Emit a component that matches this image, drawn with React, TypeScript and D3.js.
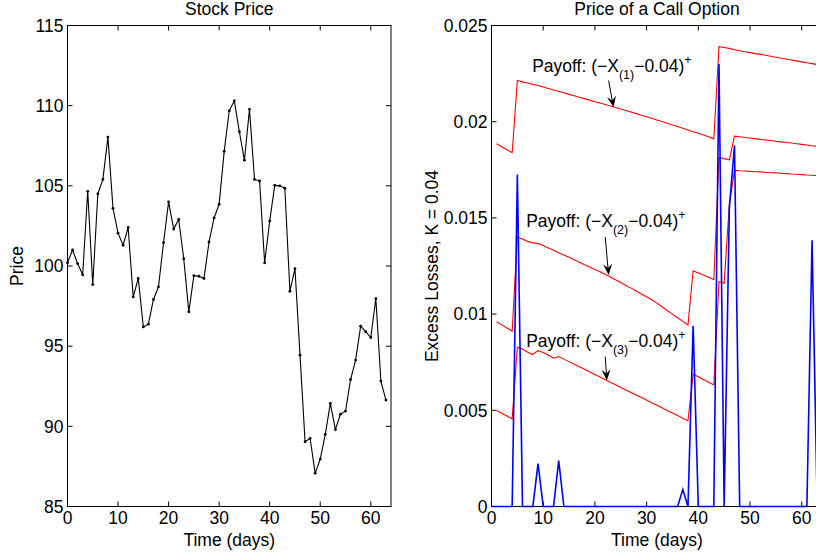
import React from "react";
import * as d3 from "d3";

// ---------- DATA ----------
const days: number[] = d3.range(0, 64);
const stockPrice: number[] = [
  100.2, 101.0, 100.15, 99.45, 104.66, 98.84, 104.5, 105.4, 108.04, 103.6,
  102.05, 101.3, 102.4, 98.07, 99.22, 96.2, 96.37, 97.91, 98.7, 101.45,
  104.0, 102.3, 102.9, 100.45, 97.14, 99.4, 99.36, 99.22, 101.5, 103.0,
  103.85, 107.15, 109.68, 110.3, 108.38, 106.6, 109.77, 105.4, 105.3, 100.2,
  102.8, 105.03, 105.0, 104.85, 98.42, 99.84, 94.44, 89.04, 89.25, 87.07,
  87.96, 89.5, 91.43, 89.8, 90.76, 90.95, 92.92, 94.13, 96.25, 95.9,
  95.54, 97.97, 92.82, 91.64,
];

const optionDays: number[] = d3.range(1, 64);
const optionPrice1: number[] = [
  0.01885, 0.0187, 0.01854, 0.01839, 0.02214, 0.02207, 0.02201, 0.02194, 0.02188, 0.0218,
  0.02173, 0.02165, 0.02158, 0.0215, 0.02142, 0.02135, 0.02127, 0.0212, 0.02112, 0.02104,
  0.02097, 0.02089, 0.02082, 0.02074, 0.02066, 0.02058, 0.0205, 0.02042, 0.02034, 0.02026,
  0.02018, 0.02009, 0.02001, 0.01992, 0.01983, 0.01975, 0.01966, 0.01957, 0.01948, 0.0194,
  0.01931, 0.01922, 0.01911, 0.0239, 0.02386, 0.02381, 0.02374, 0.02369, 0.02364, 0.02359,
  0.02354, 0.0235, 0.02345, 0.0234, 0.02335, 0.0233, 0.02326, 0.02321, 0.02316, 0.02311,
  0.02306, 0.02302, 0.02297,
];
const optionPrice2: number[] = [
  0.0096, 0.00944, 0.00928, 0.00912, 0.01401, 0.0139, 0.01378, 0.0137, 0.01367, 0.01356,
  0.01344, 0.01332, 0.01319, 0.01307, 0.01295, 0.01282, 0.0127, 0.01257, 0.01245, 0.01232,
  0.0122, 0.01207, 0.01193, 0.01178, 0.01164, 0.01149, 0.01135, 0.0112, 0.01105, 0.0109,
  0.01075, 0.01057, 0.01038, 0.01019, 0.01, 0.00981, 0.00962, 0.00943, 0.01225, 0.01214,
  0.01203, 0.01192, 0.0118, 0.01813, 0.01808, 0.01802, 0.01925, 0.01922, 0.01918, 0.01915,
  0.01912, 0.01908, 0.01905, 0.01902, 0.01898, 0.01895, 0.01892, 0.01889, 0.01885, 0.01882,
  0.01879, 0.01875, 0.01872,
];
const optionPrice3: number[] = [
  0.00499, 0.00485, 0.0047, 0.00456, 0.00828, 0.00818, 0.00802, 0.0079, 0.0081, 0.008,
  0.00787, 0.00771, 0.00779, 0.00766, 0.00753, 0.00739, 0.00726, 0.00713, 0.00699, 0.00686,
  0.00673, 0.00659, 0.00646, 0.00633, 0.00619, 0.00606, 0.00593, 0.00579, 0.00566, 0.00553,
  0.00539, 0.00526, 0.00513, 0.00499, 0.00486, 0.00473, 0.00459, 0.00446, 0.00688, 0.00674,
  0.0066, 0.00646, 0.00632, 0.01168, 0.0116, 0.0157, 0.01747, 0.01745, 0.01744, 0.01742,
  0.0174, 0.01739, 0.01737, 0.01735, 0.01734, 0.01732, 0.0173, 0.01728, 0.01727, 0.01725,
  0.01723, 0.01722, 0.0172,
];
const excessDays: number[] = d3.range(0, 64);
const excessLosses: number[] = [
  0, 0, 0, 0, 0, 0.01725, 0, 0, 0, 0.00223,
  0, 0, 0, 0.00238, 0, 0, 0, 0, 0, 0,
  0, 0, 0, 0, 0, 0, 0, 0, 0, 0,
  0, 0, 0, 0, 0, 0, 0, 0.00088, 0, 0.00938,
  0, 0, 0, 0, 0.023, 0, 0.0155, 0.01877, 0, 0,
  0, 0, 0, 0, 0, 0, 0, 0, 0, 0,
  0, 0, 0.01384, 0,
];

const leftYTicks: number[] = [85, 90, 95, 100, 105, 110, 115];
const xTicks: number[] = [0, 10, 20, 30, 40, 50, 60];
const rightYTicks: number[] = [0, 0.005, 0.01, 0.015, 0.02, 0.025];
const rightYTickLabels: string[] = ["0", "0.005", "0.01", "0.015", "0.02", "0.025"];

const payoffSubs: string[] = ["(1)", "(2)", "(3)"];
// annotation anchors in data coordinates: text [t, v], arrow from [t, v] to [t, v]
const payoffText: [number, number][] = [[7.86, 0.02257], [6.7, 0.01453], [6.7, 0.00828]];
const arrowFrom: [number, number][] = [[22.65, 0.02214], [22.0, 0.01401], [22.0, 0.00779]];
const arrowTo: [number, number][] = [[23.6, 0.02075], [22.65, 0.01203], [22.3, 0.00655]];

// ---------- LAYOUT ----------
const W = 816, H = 556;
const TOP = 25.5, BOTTOM = 506.5;
const FONT = "'Liberation Sans', Arial, Helvetica, sans-serif";
const FS = 17.5;
const TICK = 5;

function Axes({ x, y, yTicks, yLabels }: any) {
  const [x0, x1] = x.range();
  const [y0, y1] = [y(y.domain()[0]), y(y.domain()[1])];
  return (
    <g>
      <rect x={x0} y={y1} width={x1 - x0} height={y0 - y1} fill="none" stroke="#000" strokeWidth={1} />
      {xTicks.map((t) => (
        <g key={"x" + t}>
          <line x1={x(t)} x2={x(t)} y1={y0} y2={y0 - TICK} stroke="#000" />
          <line x1={x(t)} x2={x(t)} y1={y1} y2={y1 + TICK} stroke="#000" />
          <text x={x(t)} y={y0 + 17} textAnchor="middle" fontSize={FS} fontFamily={FONT}>{t}</text>
        </g>
      ))}
      {yTicks.map((v: number, i: number) => (
        <g key={"y" + i}>
          <line x1={x0} x2={x0 + TICK} y1={y(v)} y2={y(v)} stroke="#000" />
          <line x1={x1} x2={x1 - TICK} y1={y(v)} y2={y(v)} stroke="#000" />
          <text x={x0 - 4} y={y(v)} dy="0.36em" textAnchor="end" fontSize={FS} fontFamily={FONT}>{yLabels[i]}</text>
        </g>
      ))}
    </g>
  );
}

function Arrow({ from, to }: { from: [number, number]; to: [number, number] }) {
  const [fx, fy] = from, [tx, ty] = to;
  const ang = Math.atan2(ty - fy, tx - fx);
  const L = 11, Wd = 4.5, N = 7;
  const ca = Math.cos(ang), sa = Math.sin(ang);
  const p = (a: number, b: number) => [tx - a * ca - b * -sa, ty - a * sa - b * ca];
  const left = p(L, Wd), right = p(L, -Wd), notch = p(N, 0);
  return (
    <g>
      <line x1={fx} y1={fy} x2={notch[0]} y2={notch[1]} stroke="#000" strokeWidth={1} />
      <path d={`M${tx},${ty}L${left[0]},${left[1]}L${notch[0]},${notch[1]}L${right[0]},${right[1]}Z`} fill="#000" />
    </g>
  );
}

export default function App() {
  const xL = d3.scaleLinear().domain([0, 64]).range([67.5, 391]);
  const yL = d3.scaleLinear().domain([85, 115]).range([BOTTOM, TOP]);
  const xR = d3.scaleLinear().domain([0, 64]).range([491.5, 822.4]);
  const yR = d3.scaleLinear().domain([0, 0.025]).range([BOTTOM, TOP]);

  const priceLine = d3.line<number>().x((_, i) => xL(days[i])).y((d) => yL(d));
  const optLine = d3.line<number>().x((_, i) => xR(optionDays[i])).y((d) => yR(d));
  const excLine = d3.line<number>().x((_, i) => xR(excessDays[i])).y((d) => yR(d));

  return (
    <div>
      <style>{"body{margin:0}"}</style>
      <svg width={W} height={H} style={{ display: "block", background: "#fff" }}>
        {/* Left panel */}
        <text x={(67.5 + 391) / 2} y={15} textAnchor="middle" fontSize={FS} fontFamily={FONT}>Stock Price</text>
        <Axes x={xL} y={yL} yTicks={leftYTicks} yLabels={leftYTicks.map(String)} />
        <path d={priceLine(stockPrice) || ""} fill="none" stroke="#000" strokeWidth={1.1} />
        {stockPrice.map((v, i) => (
          <circle key={i} cx={xL(days[i])} cy={yL(v)} r={1.4} fill="#000" />
        ))}
        <text x={(67.5 + 391) / 2} y={546} textAnchor="middle" fontSize={FS} fontFamily={FONT}>Time (days)</text>
        <text transform={`translate(23,${(TOP + BOTTOM) / 2}) rotate(-90)`} textAnchor="middle" fontSize={FS} fontFamily={FONT}>Price</text>

        {/* Right panel */}
        <text x={(491.5 + 822.4) / 2} y={15} textAnchor="middle" fontSize={FS} fontFamily={FONT}>Price of a Call Option</text>
        <Axes x={xR} y={yR} yTicks={rightYTicks} yLabels={rightYTickLabels} />
        {[optionPrice1, optionPrice2, optionPrice3].map((s, k) => (
          <path key={k} d={optLine(s) || ""} fill="none" stroke="#ff0000" strokeWidth={1.1} />
        ))}
        <path d={excLine(excessLosses) || ""} fill="none" stroke="#0000ff" strokeWidth={1.6} />
        <text x={(491.5 + 822.4) / 2} y={546} textAnchor="middle" fontSize={FS} fontFamily={FONT}>Time (days)</text>
        <text transform={`translate(438,${(TOP + BOTTOM) / 2}) rotate(-90)`} textAnchor="middle" fontSize={FS} fontFamily={FONT}>Excess Losses, K = 0.04</text>

        {payoffSubs.map((sub, k) => (
          <g key={"ann" + k}>
            <text x={xR(payoffText[k][0])} y={yR(payoffText[k][1])} fontSize={FS} fontFamily={FONT}>
              {"Payoff: (\u2212X"}
              <tspan fontSize={12.5} dy={7}>{sub}</tspan>
              <tspan dy={-7}>{"\u22120.04)"}</tspan>
              <tspan fontSize={12.5} dy={-8}>+</tspan>
            </text>
            <Arrow from={[xR(arrowFrom[k][0]), yR(arrowFrom[k][1])]} to={[xR(arrowTo[k][0]), yR(arrowTo[k][1])]} />
          </g>
        ))}
      </svg>
    </div>
  );
}
